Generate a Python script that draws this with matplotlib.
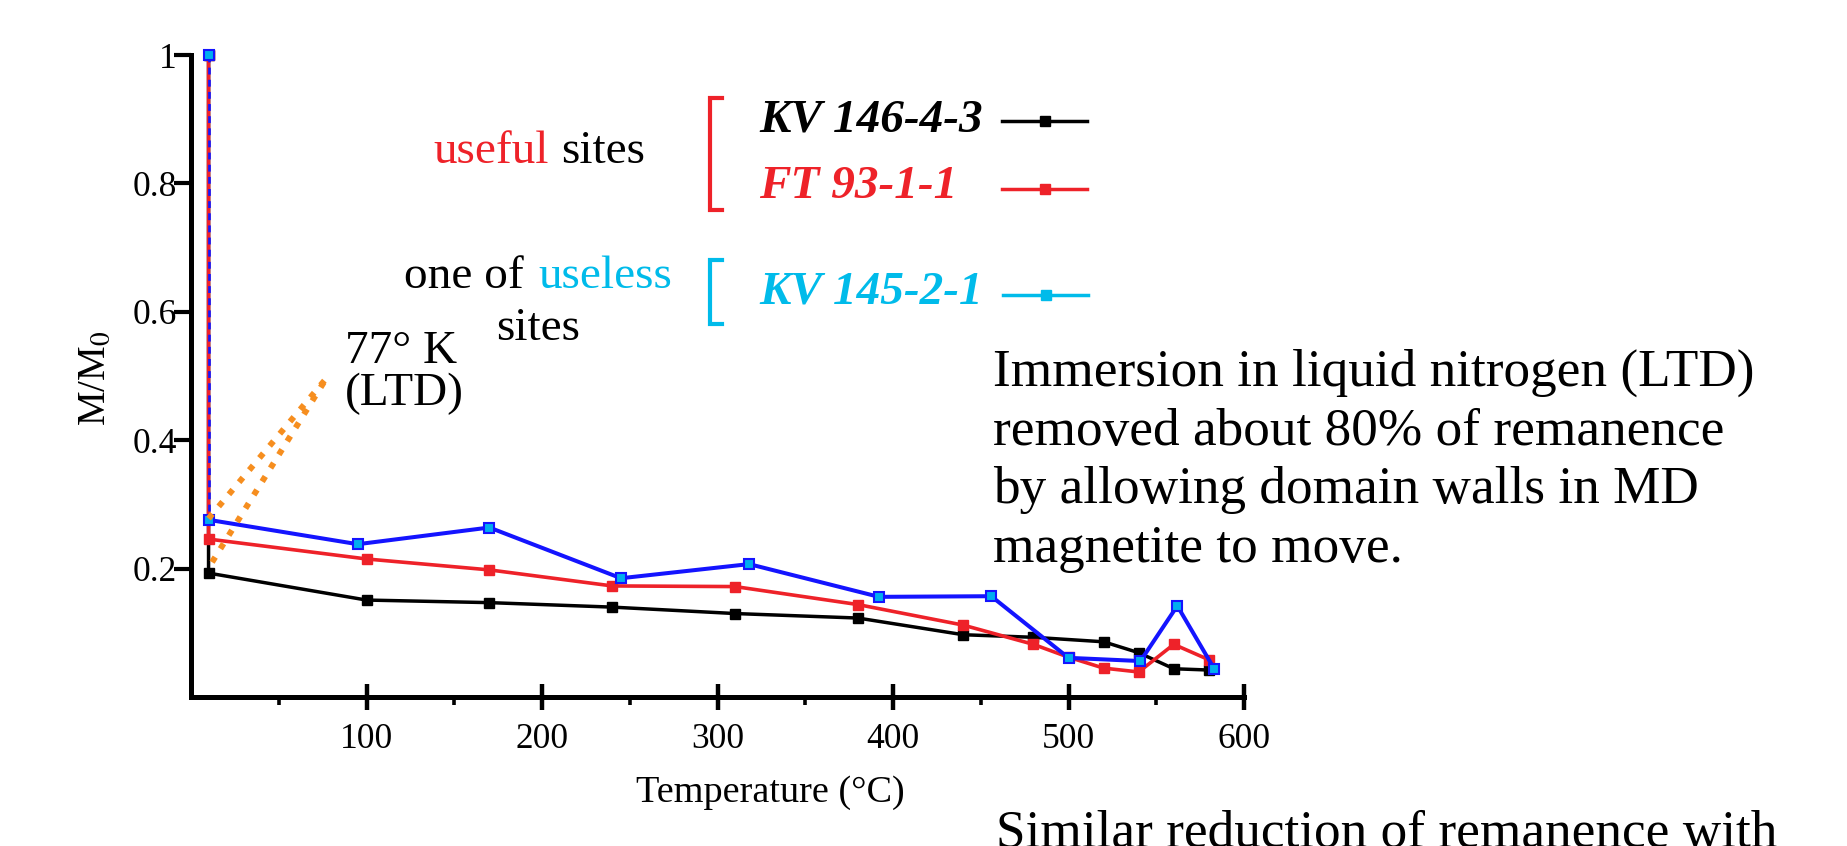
import matplotlib.pyplot as plt
from matplotlib.lines import Line2D

plt.rcParams['font.family'] = ['Liberation Serif', 'DejaVu Serif']
plt.rcParams['mathtext.fontset'] = 'stix'

W, H = 1847, 846

# M/M0 during thermal demagnetisation after LTD (first point = before LTD)
kv146_t = [10, 10, 100, 170, 240, 310, 380, 440, 480, 520, 540, 560, 580]
kv146_m = [1.0, 0.193, 0.151, 0.147, 0.140, 0.130, 0.123, 0.097, 0.093, 0.086, 0.069, 0.044, 0.042]

ft93_t = [10, 10, 100, 170, 240, 310, 380, 440, 480, 500, 520, 540, 560, 580]
ft93_m = [1.0, 0.246, 0.215, 0.198, 0.173, 0.172, 0.144, 0.112, 0.082, 0.062, 0.045, 0.039, 0.082, 0.058]

kv145_t = [10, 10, 95, 170, 245, 318, 392, 456, 500, 541, 562, 583]
kv145_m = [1.0, 0.276, 0.238, 0.264, 0.185, 0.207, 0.156, 0.157, 0.061, 0.056, 0.142, 0.044]

# the two orange "LTD" guide lines
ltd_t = [[10, 77], [12, 77]]
ltd_m = [[0.278, 0.496], [0.21, 0.496]]

names = ['KV 146-4-3', 'FT 93-1-1', 'KV 145-2-1']
xticks = [100, 200, 300, 400, 500, 600]
xminor = [50, 150, 250, 350, 450, 550]
yticks = [0.2, 0.4, 0.6, 0.8, 1.0]
ylabels = ['0.2', '0.4', '0.6', '0.8', '1']

note_lines = ['Immersion in liquid nitrogen (LTD)',
              'removed about 80% of remanence',
              'by allowing domain walls in MD',
              'magnetite to move.']

BLACK = 'black'
RED = '#EE2229'
BLUE = '#1414FF'
CYAN_FACE = '#00AEEF'
CYAN = '#00BBEA'
ORANGE = '#F68E1F'


def fx(x):
    return x / W


def fy(y):
    return 1 - y / H


fig = plt.figure(figsize=(W / 100, H / 100), dpi=100)
ax = fig.add_axes([fx(191), fy(697), (1244 - 191) / W, (697 - 55) / H])

ax.plot(kv146_t, kv146_m, color=BLACK, lw=2.5, marker='s', ms=6.8, zorder=3, clip_on=False)
ax.plot(ft93_t, ft93_m, color=RED, lw=2.6, marker='s', ms=6.8, zorder=4, clip_on=False)
# vertical LTD drop drawn dotted, the rest solid
ax.plot(kv145_t[:2], kv145_m[:2], color=BLUE, lw=1.9, ls=(0, (2.6, 2)), zorder=5, clip_on=False)
ax.plot(kv145_t[1:], kv145_m[1:], color=BLUE, lw=2.9, marker='s', ms=7.8,
        mfc=CYAN_FACE, mec=BLUE, mew=1.5, zorder=6, clip_on=False)
ax.plot(kv145_t[:1], kv145_m[:1], ls='none', marker='s', ms=7.8,
        mfc=CYAN_FACE, mec=BLUE, mew=1.5, zorder=6, clip_on=False)

for t, m in zip(ltd_t, ltd_m):
    ax.plot(t, m, color=ORANGE, lw=4.3, ls=':', zorder=7, clip_on=False)

ax.set_xlim(0, 600)
ax.set_ylim(0, 1)
for side in ['top', 'right']:
    ax.spines[side].set_visible(False)
for side in ['left', 'bottom']:
    ax.spines[side].set_linewidth(3.6)

ax.set_xticks(xticks)
ax.set_xticks(xminor, minor=True)
ax.set_yticks(yticks, ylabels)
ax.tick_params(axis='x', which='major', direction='inout', length=19, width=3.2,
               labelsize=25.5, pad=9)
ax.tick_params(axis='x', which='minor', direction='out', length=6, width=2.6)
ax.tick_params(axis='y', which='major', direction='out', length=12, width=3,
               labelsize=25.5, pad=-2)

ax.set_xlabel('Temperature (°C)', fontsize=27.5)
ax.xaxis.label.set_va('baseline')
ax.xaxis.set_label_coords((770 - 191) / 1053, (697 - 802) / 642)
ax.set_ylabel('M/M$_0$', fontsize=28)
ax.yaxis.label.set_va('baseline')
ax.yaxis.set_label_coords((105 - 191) / 1053, (697 - 378) / 642)

# legend keys only; the sample names are written separately, left-aligned
handles = [Line2D([], [], color=c, lw=2.5, marker='s', ms=6.5) for c in [BLACK, RED, CYAN]]
leg_kw = dict(loc='center left', bbox_transform=fig.transFigure, frameon=False,
              handlelength=1.8, handletextpad=0, labelspacing=0.52, borderpad=0,
              borderaxespad=0, fontsize=34)
leg1 = ax.legend(handles[:2], ['', ''], bbox_to_anchor=(fx(1002), fy(160)), **leg_kw)
ax.add_artist(leg1)
leg2 = ax.legend(handles[2:], [''], bbox_to_anchor=(fx(1003), fy(300)), **leg_kw)

for name, c, yb in zip(names, [BLACK, RED, CYAN], [132, 198, 303]):
    fig.text(fx(759), fy(yb), name, color=c, fontsize=34, fontweight='bold',
             fontstyle='italic', va='baseline')


def bracket(x0, x1, y0, y1, color):
    fig.add_artist(Line2D([fx(x1), fx(x0), fx(x0), fx(x1)], [fy(y0), fy(y0), fy(y1), fy(y1)],
                          transform=fig.transFigure, color=color, lw=3,
                          solid_joinstyle='miter'))


bracket(710, 722, 98, 210, RED)
bracket(710, 722, 260, 324, CYAN)

fig.text(fx(433), fy(163), 'useful', color=RED, fontsize=34, va='baseline')
fig.text(fx(561), fy(163), 'sites', color=BLACK, fontsize=34, va='baseline')
fig.text(fx(404), fy(288), 'one of', color=BLACK, fontsize=34, va='baseline')
fig.text(fx(538), fy(288), 'useless', color=CYAN, fontsize=34, va='baseline')
fig.text(fx(538), fy(340), 'sites', color=BLACK, fontsize=34, va='baseline', ha='center')
fig.text(fx(345), fy(363), '77° K', color=BLACK, fontsize=34, va='baseline')
fig.text(fx(345), fy(405), '(LTD)', color=BLACK, fontsize=34, va='baseline')

for i, line in enumerate(note_lines):
    fig.text(fx(993), fy(386 + i * 58.6), line, fontsize=38.3, va='baseline')
fig.text(fx(996), fy(847), 'Similar reduction of remanence with', fontsize=38.3, va='baseline')

fig.savefig('out.png', dpi=100)
